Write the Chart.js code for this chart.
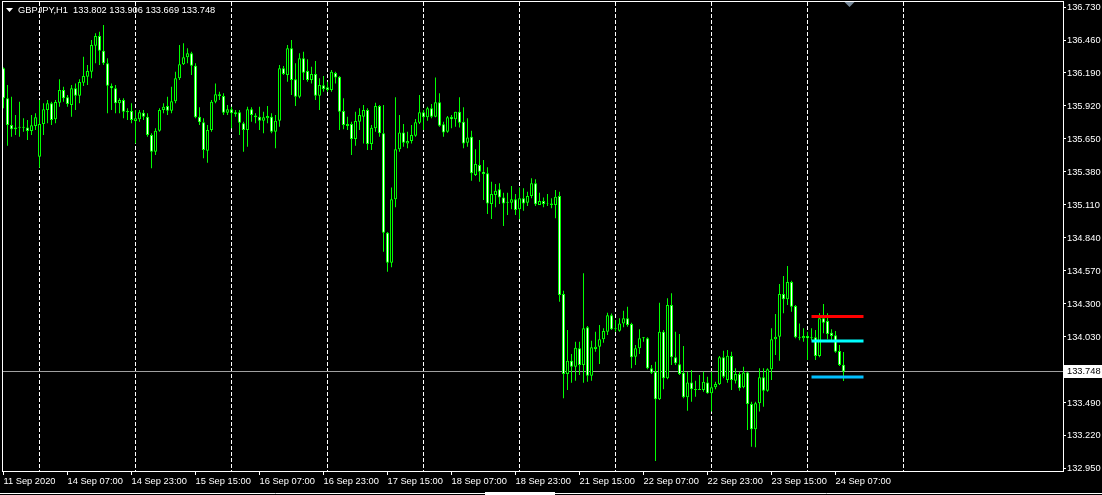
<!DOCTYPE html>
<html>
<head>
<meta charset="utf-8">
<script src="https://cdn.jsdelivr.net/npm/chart.js@4/dist/chart.umd.min.js"></script>
<style>
  html, body { margin: 0; padding: 0; background: #000; }
  canvas { display: block; }
</style>
</head>
<body>
<canvas id="chart" width="1102" height="495"></canvas>
<script>
// GBPJPY H1, one value per hourly bar (bar 0 = 11 Sep 15:00)
var symbol = 'GBPJPY,H1';
var opens = [136.228,135.983,135.764,135.729,135.742,135.750,135.745,135.715,135.756,135.505,
  135.772,135.887,135.942,135.811,135.947,136.051,135.991,135.928,136.065,136.004,
  136.110,136.159,136.200,136.413,136.493,136.372,136.269,136.084,136.065,135.942,
  135.969,135.868,135.879,135.797,135.811,135.865,135.832,135.682,135.546,135.717,
  135.887,135.920,135.881,135.958,136.146,136.261,136.318,136.351,136.249,135.832,
  135.786,135.554,135.723,135.955,136.016,136.002,135.865,135.893,135.852,135.868,
  135.778,135.723,135.893,135.843,135.832,135.799,135.819,135.832,135.709,135.799,
  136.228,136.173,136.392,136.138,135.996,136.310,136.206,136.132,136.181,136.004,
  136.089,136.073,136.051,136.189,136.159,135.879,135.756,135.772,135.649,135.791,
  135.832,135.887,135.608,135.737,135.920,135.696,134.883,134.637,135.156,135.566,
  135.704,135.614,135.633,135.676,135.783,135.868,135.827,135.901,135.832,135.950,
  135.770,135.709,135.830,135.811,135.873,135.791,135.619,135.668,135.355,135.437,
  135.382,135.369,135.117,135.191,135.238,135.172,135.128,135.128,135.156,135.075,
  135.164,135.128,135.183,135.287,135.109,135.142,135.117,135.123,135.109,135.183,
  134.381,133.726,133.835,133.786,133.937,133.800,134.109,133.712,133.931,133.950,
  134.011,134.073,134.207,134.093,134.081,134.141,134.182,134.136,133.868,133.937,
  134.019,134.019,133.773,133.745,133.520,134.073,133.691,134.291,133.863,133.806,
  133.737,133.536,133.658,133.604,133.596,133.596,133.658,133.569,133.618,133.642,
  133.863,133.677,133.874,133.672,133.726,133.618,133.740,133.481,133.274,133.487,
  133.700,133.590,133.765,134.011,134.032,134.381,134.338,134.479,134.283,134.027,
  134.019,134.038,134.019,134.027,133.874,134.182,134.160,134.064,134.043,133.915,
  133.802];
var highs = [136.235,136.091,135.996,135.846,135.955,135.819,135.805,135.846,135.860,135.969,
  135.942,135.969,135.955,135.969,136.138,136.078,136.010,136.091,136.105,136.138,
  136.323,136.255,136.460,136.515,136.528,136.583,136.310,136.105,136.091,135.983,
  135.983,135.901,135.942,135.887,135.887,135.887,135.860,135.696,135.737,135.901,
  135.942,135.996,136.078,136.200,136.419,136.433,136.392,136.364,136.269,135.909,
  135.819,135.764,135.969,136.105,136.037,136.024,135.928,135.914,135.887,135.887,
  135.791,135.914,135.909,135.860,135.914,135.873,135.920,135.860,135.846,136.255,
  136.247,136.419,136.460,136.269,136.351,136.364,136.302,136.241,136.288,136.146,
  136.165,136.118,136.214,136.200,136.165,135.983,135.832,135.791,135.873,135.901,
  135.928,135.901,135.764,135.947,135.928,135.928,134.889,135.254,135.991,135.846,
  135.772,135.709,135.764,135.813,136.010,135.887,135.914,135.936,136.154,136.024,
  135.791,135.838,135.846,135.873,135.991,135.909,135.819,135.717,135.566,135.641,
  135.478,135.418,135.300,135.281,135.287,135.210,135.210,135.265,135.199,135.254,
  135.246,135.218,135.328,135.320,135.210,135.172,135.199,135.164,135.232,135.218,
  134.408,134.087,133.890,133.991,133.991,134.551,134.120,133.999,134.073,134.128,
  134.101,134.228,134.222,134.168,134.182,134.244,134.277,134.146,133.964,134.093,
  134.030,134.027,133.800,133.827,134.310,134.087,134.346,134.387,134.073,134.054,
  133.956,133.745,133.759,133.671,133.718,133.745,133.704,133.745,133.663,133.874,
  133.917,133.923,133.909,133.773,133.745,133.786,133.745,133.500,133.500,133.773,
  133.773,133.773,134.101,134.218,134.463,134.528,134.610,134.490,134.291,134.141,
  134.101,134.073,134.101,134.087,134.223,134.299,134.223,134.093,134.078,133.964,
  133.906];
var lows = [135.901,135.595,135.668,135.682,135.668,135.709,135.641,135.682,135.723,135.415,
  135.682,135.778,135.764,135.778,135.914,135.955,135.914,135.832,135.887,135.942,
  136.084,136.091,136.146,136.269,136.255,136.255,135.860,135.887,135.860,135.860,
  135.819,135.805,135.778,135.614,135.791,135.805,135.668,135.410,135.519,135.709,
  135.860,135.846,135.860,135.942,136.132,136.255,136.269,136.173,135.819,135.764,
  135.492,135.456,135.709,135.942,135.969,135.846,135.846,135.737,135.832,135.682,
  135.546,135.587,135.791,135.778,135.723,135.696,135.778,135.696,135.574,135.750,
  136.173,136.118,136.010,135.920,135.983,136.132,136.118,136.105,135.969,135.887,
  136.037,136.037,136.037,136.105,135.723,135.729,135.723,135.519,135.595,135.723,
  135.614,135.560,135.560,135.709,135.668,134.727,134.564,134.600,135.091,135.546,
  135.587,135.574,135.614,135.668,135.772,135.723,135.799,135.819,135.827,135.750,
  135.668,135.701,135.737,135.750,135.745,135.574,135.587,135.308,135.347,135.300,
  135.150,135.036,134.995,135.091,135.117,134.938,135.028,135.075,135.028,134.993,
  135.063,135.101,135.164,135.101,135.109,135.091,135.101,135.083,135.001,134.318,
  133.528,133.596,133.655,133.671,133.718,133.655,133.663,133.671,133.909,133.808,
  133.983,134.046,134.087,134.073,134.073,134.109,134.114,133.773,133.800,133.890,
  133.991,133.765,133.726,133.015,133.514,133.601,133.683,133.800,133.800,133.718,
  133.528,133.427,133.500,133.541,133.596,133.582,133.565,133.419,133.601,133.636,
  133.691,133.655,133.596,133.650,133.590,133.610,133.268,133.132,133.127,133.419,
  133.459,133.582,133.677,133.882,133.835,134.223,134.291,134.236,134.019,134.002,
  133.991,133.841,134.002,133.841,133.863,134.060,134.011,133.999,133.901,133.792,
  133.669];
var closes = [135.983,135.764,135.729,135.745,135.750,135.742,135.715,135.762,135.827,135.772,
  135.893,135.942,135.805,135.953,136.051,135.983,135.936,136.065,136.004,136.116,
  136.165,136.206,136.419,136.493,136.372,136.269,136.086,136.065,135.942,135.969,
  135.873,135.879,135.805,135.819,135.868,135.832,135.682,135.546,135.717,135.887,
  135.914,135.881,135.958,136.146,136.261,136.318,136.351,136.249,135.827,135.786,
  135.560,135.723,135.955,136.016,136.002,135.865,135.893,135.860,135.868,135.783,
  135.723,135.893,135.846,135.827,135.799,135.827,135.838,135.709,135.799,136.228,
  136.181,136.392,136.132,135.996,136.310,136.192,136.132,136.181,136.004,136.091,
  136.059,136.051,136.200,136.154,135.873,135.764,135.772,135.649,135.797,135.846,
  135.887,135.608,135.742,135.920,135.696,134.883,134.637,135.156,135.566,135.704,
  135.619,135.633,135.682,135.786,135.868,135.827,135.901,135.832,135.950,135.758,
  135.704,135.827,135.811,135.873,135.783,135.614,135.663,135.369,135.445,135.382,
  135.363,135.123,135.199,135.226,135.172,135.123,135.136,135.156,135.069,135.164,
  135.123,135.183,135.287,135.115,135.142,135.117,135.123,135.109,135.177,134.373,
  133.726,133.835,133.786,133.942,133.800,134.101,133.712,133.945,133.950,134.011,
  134.079,134.207,134.093,134.101,134.141,134.182,134.128,133.863,133.937,134.019,
  134.027,133.773,133.737,133.520,134.073,133.691,134.291,133.863,133.814,133.726,
  133.536,133.658,133.601,133.596,133.604,133.663,133.569,133.618,133.644,133.863,
  133.704,133.876,133.677,133.726,133.610,133.740,133.481,133.274,133.487,133.700,
  133.590,133.765,134.011,134.032,134.381,134.338,134.479,134.277,134.027,134.019,
  134.038,134.019,134.027,133.874,134.182,134.146,134.054,134.038,133.909,133.800,
  133.748];

// time axis labels (bar index -> text)
var labelBars = [0, 16, 32, 48, 64, 80, 96, 112, 128, 144, 160, 176, 192, 208];
var labelTexts = ['11 Sep 2020', '14 Sep 07:00', '14 Sep 23:00', '15 Sep 15:00', '16 Sep 07:00',
  '16 Sep 23:00', '17 Sep 15:00', '18 Sep 07:00', '18 Sep 23:00', '21 Sep 15:00',
  '22 Sep 07:00', '22 Sep 23:00', '23 Sep 15:00', '24 Sep 07:00'];
// day starts (00:00 bars) for the dashed grid
var dayBars = [9, 33, 57, 81, 105, 129, 153, 177, 201, 225];
// price axis labels
var priceTicks = [132.95, 133.22, 133.49, 133.76, 134.03, 134.30, 134.57, 134.84, 135.11,
  135.38, 135.65, 135.92, 136.19, 136.46, 136.73];
// horizontal levels drawn on the chart
var levelPrices = [134.198, 133.997, 133.702];
var levelColors = ['#ff0000', '#00ffff', '#00bfff'];
var levelFrom = 202, levelTo = 215;
var shiftBar = 211.5;

var n = closes.length;
var last = n - 1;

var wicks = [], bodies = [], bodyFill = [];
for (let i = 0; i < n; i++) {
    wicks.push({x: i, y: [lows[i], highs[i]]});
    bodies.push({x: i, y: [opens[i], closes[i]]});
    bodyFill.push(closes[i] >= opens[i] ? '#000000' : '#ffffff');
}

var datasets = [];
for (let k = 0; k < levelPrices.length; k++) {
    datasets.push({
        type: 'line',
        data: [{x: levelFrom, y: levelPrices[k]}, {x: levelTo, y: levelPrices[k]}],
        borderColor: levelColors[k],
        borderWidth: 3,
        pointRadius: 0,
        borderCapStyle: 'butt',
        order: 1
    });
}
datasets.push({
    type: 'bar',
    data: bodies,
    backgroundColor: bodyFill,
    borderColor: '#00ff00',
    borderWidth: 1,
    borderSkipped: false,
    barThickness: 3,
    grouped: false,
    inflateAmount: 0,
    order: 2
});
datasets.push({
    type: 'bar',
    data: wicks,
    backgroundColor: '#00ff00',
    borderWidth: 0,
    barThickness: 1,
    grouped: false,
    inflateAmount: 0,
    order: 3
});

var FAMILY = '"Liberation Sans", sans-serif';
var FSIZE = 9.3;
var FONT = FSIZE + 'px ' + FAMILY;

var mtPlugin = {
    id: 'mt',
    beforeDraw: function(chart) {
        var ctx = chart.ctx;
        ctx.save();
        ctx.fillStyle = '#000';
        ctx.fillRect(0, 0, chart.width, chart.height);
        ctx.restore();
    },
    beforeDatasetsDraw: function(chart) {
        var ctx = chart.ctx, ca = chart.chartArea;
        var y = Math.round(chart.scales.y.getPixelForValue(closes[last])) + 0.5;
        ctx.save();
        ctx.strokeStyle = '#a0a0a0';
        ctx.lineWidth = 1;
        ctx.beginPath();
        ctx.moveTo(ca.left, y);
        ctx.lineTo(ca.right, y);
        ctx.stroke();
        ctx.restore();
    },
    afterDraw: function(chart) {
        var ctx = chart.ctx, ca = chart.chartArea;
        ctx.save();
        // frame
        ctx.strokeStyle = '#ffffff';
        ctx.lineWidth = 1;
        ctx.strokeRect(ca.left - 0.5, ca.top - 0.5, ca.right - ca.left + 1, ca.bottom - ca.top + 1);
        // bottom strip: scroll line and thumb
        ctx.beginPath();
        ctx.moveTo(0, 493.5); ctx.lineTo(1102, 493.5);
        ctx.stroke();
        ctx.fillStyle = '#ffffff';
        ctx.fillRect(485, 492, 70, 3);
        // header
        ctx.beginPath();
        ctx.moveTo(6, 8); ctx.lineTo(13, 8); ctx.lineTo(9.5, 12);
        ctx.closePath();
        ctx.fill();
        ctx.font = FONT;
        ctx.textBaseline = 'middle';
        ctx.textAlign = 'left';
        var head = symbol + '  ' + opens[last].toFixed(3) + ' ' + highs[last].toFixed(3) + ' ' +
            lows[last].toFixed(3) + ' ' + closes[last].toFixed(3);
        ctx.fillText(head, 18, 10);
        // current price label
        var py = Math.round(chart.scales.y.getPixelForValue(closes[last]));
        ctx.fillStyle = '#ffffff';
        ctx.fillRect(ca.right + 1, py - 6, chart.width - ca.right - 1, 13);
        ctx.fillStyle = '#000000';
        ctx.fillText(closes[last].toFixed(3), ca.right + 4, py + 0.5);
        // chart shift marker
        var sx = chart.scales.x.getPixelForValue(shiftBar);
        ctx.fillStyle = '#778899';
        ctx.beginPath();
        ctx.moveTo(sx - 5, ca.top); ctx.lineTo(sx + 5, ca.top); ctx.lineTo(sx, ca.top + 5);
        ctx.closePath();
        ctx.fill();
        ctx.restore();
    }
};

var ctx = document.getElementById('chart');
var myChart = new Chart(ctx, {
    type: 'bar',
    data: { datasets: datasets },
    options: {
        responsive: false,
        animation: false,
        devicePixelRatio: 1,
        layout: { padding: { left: 3, top: 2, right: 0, bottom: 0 } },
        plugins: { legend: { display: false }, tooltip: { enabled: false } },
        events: [],
        scales: {
            x: {
                type: 'linear',
                position: 'bottom',
                min: -0.125,
                max: 264.875,
                offset: false,
                afterBuildTicks: function(s) { s.ticks = labelBars.map(function(v) { return {value: v}; }); },
                afterFit: function(s) { s.height = 24; s.paddingLeft = 0; s.paddingRight = 0; },
                grid: { display: true, drawOnChartArea: false, drawTicks: true, tickLength: 4, color: '#ffffff', offset: false },
                border: { display: false },
                ticks: {
                    color: '#ffffff',
                    font: { family: FAMILY, size: FSIZE },
                    align: 'start',
                    labelOffset: 0,
                    padding: 1,
                    maxRotation: 0,
                    autoSkip: false,
                    callback: function(v) { var j = labelBars.indexOf(v); return j >= 0 ? labelTexts[j] : ''; }
                }
            },
            xg: {
                type: 'linear',
                position: 'top',
                min: -0.125,
                max: 264.875,
                offset: false,
                afterBuildTicks: function(s) { s.ticks = dayBars.map(function(v) { return {value: v}; }); },
                afterFit: function(s) { s.height = 0; s.paddingLeft = 0; s.paddingRight = 0; },
                grid: { display: true, drawOnChartArea: true, drawTicks: false, color: '#ffffff', lineWidth: 1, offset: false },
                border: { display: false, dash: [4, 2] },
                ticks: { display: false }
            },
            y: {
                type: 'linear',
                position: 'right',
                min: 132.933,
                max: 136.771,
                afterBuildTicks: function(s) { s.ticks = priceTicks.map(function(v) { return {value: v}; }); },
                afterFit: function(s) { s.width = 39; s.paddingTop = 0; s.paddingBottom = 0; },
                grid: { display: true, drawOnChartArea: false, drawTicks: true, tickLength: 3, color: '#ffffff' },
                border: { display: false },
                ticks: {
                    color: '#ffffff',
                    font: { family: FAMILY, size: FSIZE },
                    padding: 1,
                    autoSkip: false,
                    callback: function(v) { return v.toFixed(3); }
                }
            }
        }
    },
    plugins: [mtPlugin]
});
</script>
</body>
</html>
